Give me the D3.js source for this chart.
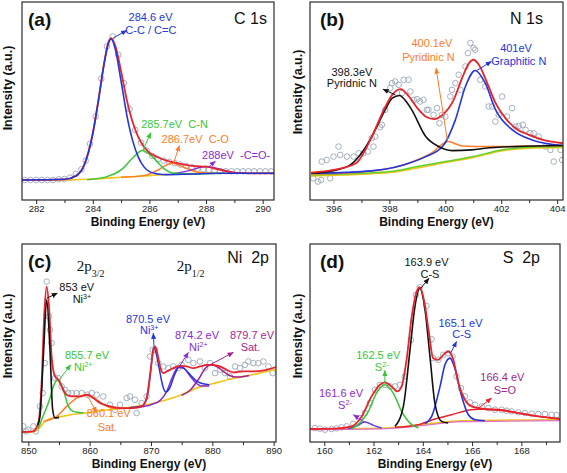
<!DOCTYPE html>
<html><head><meta charset="utf-8">
<script src="https://cdn.jsdelivr.net/npm/d3@7"></script>
<style>
body{margin:0;background:#fff}
svg{display:block;font-family:"Liberation Sans",Arial,sans-serif}
text{white-space:pre}
</style>
</head><body>
<svg id="chart" width="567" height="473"></svg>
<script>
// ---------- colours ----------
const RED="#e8232c", BLUE="#2236dc", GREEN="#35c735", ORANGE="#ff7c26", PURPLE="#8a2bd6",
      MAGENTA="#a61f8c", BLACK="#111111", YELLOW="#f0c419", LGREEN="#62d02a", PINK="#e070c8";

// ---------- panel (a) C 1s ----------
const aTicks=[282,284,286,288,290], aMinor=[283,285,287,289];
const aScatter=[[281.6,60],[281.8,60],[282.0,60],[282.2,60],[282.4,60],[282.6,60],[282.8,62],[283.0,63],[283.2,67],[283.4,78],[283.6,92],[283.75,118],[283.9,168],[284.1,250],[284.3,363],[284.5,460],[284.7,490],[284.9,435],[285.1,350],[285.3,272],[285.5,210],[285.7,172],[285.9,148],[286.1,132],[286.3,122],[286.5,118],[286.7,114],[286.9,110],[287.1,106],[287.3,102],[287.5,98],[287.7,94],[287.9,92],[288.1,90],[288.3,88],[288.5,86],[288.7,86],[288.9,86],[289.1,86],[289.3,86],[289.5,86],[289.7,86],[289.9,86],[290.1,86],[290.3,86]];
const aBase=[[281.5,60],[283.0,60],[284.0,63],[285.0,68],[286.0,73],[287.0,78],[288.0,80],[290.4,81]];
const aCC=[[281.5,60],[283.0,62],[283.4,72],[283.7,105],[284.0,198],[284.2,298],[284.4,408],[284.55,468],[284.65,482],[284.8,450],[285.0,355],[285.2,255],[285.4,180],[285.6,130],[285.8,100],[286.0,85],[286.3,78],[286.6,76],[287.5,78],[288.5,80],[290.4,80]];
const aCN=[[283.8,61],[284.5,70],[285.0,90],[285.4,125],[285.75,148],[286.1,130],[286.5,95],[286.9,80],[287.5,78],[288.6,80]];
const aCO=[[285.0,68],[285.8,73],[286.3,90],[286.8,110],[287.3,95],[287.8,82],[288.3,80]];
const aCOO=[[286.8,78],[287.4,88],[288.0,100],[288.5,92],[289.0,82],[289.4,80]];
const aFit=[[281.5,60],[283.0,62],[283.4,72],[283.7,105],[284.0,200],[284.2,300],[284.4,410],[284.55,472],[284.65,485],[284.8,460],[285.0,385],[285.2,300],[285.4,235],[285.6,190],[285.8,160],[286.0,142],[286.3,128],[286.6,118],[287.0,110],[287.5,102],[288.0,100],[288.5,90],[289.0,82],[289.5,80],[290.4,80]];

// ---------- panel (b) N 1s ----------
const bTicks=[396,398,400,402,404], bMinor=[397,399,401,403];
const bScatter=[[395.28,65],[395.44,55],[395.56,60],[395.88,65],[395.58,115],[395.76,120],[396.0,130],[396.18,160],[396.24,135],[396.48,130],[396.72,130],[396.9,140],[397.07,140],[397.23,145],[397.37,185],[397.43,160],[397.49,190],[397.67,218],[397.73,225],[397.85,270],[398.03,335],[398.09,350],[398.21,355],[398.33,345],[398.45,320],[398.51,360],[398.69,360],[398.75,325],[398.87,300],[398.99,302],[399.1,295],[399.22,300],[399.34,270],[399.4,270],[399.58,255],[399.7,275],[399.79,230],[399.88,255],[400.0,250],[400.18,310],[400.24,330],[400.36,350],[400.48,375],[400.54,330],[400.72,400],[400.81,440],[400.9,470],[401.01,455],[401.07,450],[401.25,360],[401.43,340],[401.55,280],[401.67,280],[401.79,235],[401.91,255],[402.03,310],[402.21,250],[402.39,275],[402.51,220],[402.63,222],[402.77,225],[402.87,210],[403.04,200],[403.16,200],[403.34,190],[403.58,160],[403.76,150],[403.88,115],[404.12,150],[404.18,120]];
const bBaseY=[[395.2,72],[397,77],[398,82],[399,96],[400,112],[401,127],[402,147],[403,155],[404.2,157]];
const bBaseG=[[395.2,75],[397,80],[398,85],[399,100],[400,115],[401,130],[402,150],[403,158],[404.2,160]];
const bPyr=[[395.2,80],[396,88],[396.6,105],[397.0,140],[397.37,190],[397.85,270],[398.1,305],[398.36,313],[398.6,295],[398.8,270],[399.3,190],[399.76,160],[400.24,148],[400.95,150],[401.43,155],[402.5,160],[404.2,163]];
const bPyri=[[395.2,78],[397,84],[398.5,105],[399.5,140],[400.1,175],[400.6,162],[401.5,160],[404.2,163]];
const bGra=[[395.2,80],[397,85],[398.5,105],[399.3,130],[399.9,160],[400.36,240],[400.72,340],[401.07,388],[401.43,350],[401.8,270],[402.4,210],[403.1,180],[404.2,163]];
const bFit=[[395.2,82],[396,90],[396.8,110],[397.4,195],[397.8,270],[398.1,315],[398.4,332],[398.7,310],[399.0,275],[399.3,250],[399.6,242],[399.9,255],[400.3,300],[400.6,365],[400.85,410],[401.0,420],[401.2,405],[401.5,350],[401.8,290],[402.2,240],[402.6,210],[403.0,195],[403.5,180],[404.2,170]];

// ---------- panel (c) Ni 2p ----------
const cTicks=[850,860,870,880,890], cMinor=[855,865,875,885];
const cScatter=[[849.18,47],[849.62,32],[850.0,37],[850.82,47],[851.25,32],[851.9,107],[852.34,147],[852.72,237],[852.99,482],[853.37,377],[853.53,337],[853.8,297],[854.35,192],[854.89,192],[855.43,167],[855.98,157],[856.52,147],[857.07,147],[857.88,147],[858.7,147],[859.62,142],[860.33,147],[861.14,142],[862.23,137],[863.32,112],[864.13,97],[864.95,112],[866.03,132],[866.58,137],[867.39,127],[867.66,87],[868.48,117],[869.29,137],[869.84,257],[870.27,277],[870.65,277],[871.2,237],[872.01,227],[872.83,222],[873.64,227],[874.46,222],[875.0,232],[876.09,247],[876.9,237],[877.99,242],[878.8,222],[879.62,237],[880.43,207],[881.25,217],[882.07,207],[882.88,197],[883.7,227],[884.51,222],[885.33,232],[885.87,242],[886.68,237],[887.5,237],[888.32,242],[889.13,227],[889.84,207]];
const cBase=[[849,30],[851,32],[851.8,42],[852.6,60],[853.5,70],[855,75],[857,82],[860,89],[863,97],[866,103],[868,108],[870,114],[872,124],[874,135],[876,150],[878,165],[880,175],[882,185],[884,193],[886,200],[888,208],[890.38,218]];
const cNi3a=[[851.5,50],[851.9,77],[852.45,257],[852.99,427],[853.53,277],[853.97,97],[854.35,72],[855,74]];
const cNi2a=[[851.6,40],[852.45,80],[853.5,130],[854.08,167],[854.89,187],[855.71,157],[856.52,107],[857.34,92],[858.15,89],[859,88]];
const cSat1=[[852.45,62],[854.62,77],[856.25,107],[857.88,132],[859.62,142],[861.14,127],[862.77,107],[864.4,100],[866,102]];
const cNi3b=[[866.5,103],[868.5,108],[869.3,130],[869.9,205],[870.3,270],[870.55,283],[870.9,262],[871.4,215],[871.9,170],[872.4,150],[873.0,160],[873.8,200],[874.7,228],[875.6,218],[876.5,200],[877.5,182],[878.5,175],[879.5,172]];
const cNi2b=[[868,105],[870,112],[871.5,125],[872.5,150],[873.5,195],[874.4,224],[875.3,222],[876.3,200],[877.3,178],[878.3,168],[879.5,168]];
const cSat2=[[875,140],[876.5,158],[877.8,190],[878.8,220],[879.8,232],[880.8,226],[881.8,212],[882.8,200],[884,195],[886,200]];
const cFit=[[849,30],[850.82,32],[851.63,57],[852.17,177],[852.61,387],[852.99,467],[853.37,407],[853.8,257],[854.35,197],[854.89,187],[855.43,167],[856.25,142],[857.07,137],[858.42,137],[859.62,142],[860.6,132],[861.68,117],[863.32,107],[864.95,102],[867.12,102],[868.48,107],[869.29,132],[869.95,217],[870.38,277],[870.65,287],[871.03,267],[871.47,227],[872.01,207],[872.55,212],[873.64,222],[874.73,229],[875.82,227],[876.9,222],[877.99,227],[879.08,232],[880.16,232],[881.25,227],[882.34,217],[883.42,209],[885.05,212],[886.68,212],[888.86,217],[890.38,225]];

// ---------- panel (d) S 2p ----------
const dTicks=[160,162,164,166,168], dMinor=[161,163,165,167,169];
const dScatter=[[159.62,42],[159.82,40],[160.03,37],[160.3,39],[160.5,41],[160.7,44],[160.91,47],[161.18,55],[161.45,72],[161.65,87],[161.85,117],[162.06,157],[162.26,172],[162.46,172],[162.67,167],[162.87,167],[163.07,172],[163.27,197],[163.52,307],[163.72,442],[163.88,465],[164.15,409],[164.36,309],[164.42,252],[164.63,247],[164.83,262],[165.03,267],[165.21,257],[165.37,197],[165.55,162],[165.71,137],[165.91,119],[166.12,112],[166.39,107],[166.66,102],[166.93,97],[167.2,97],[167.4,94],[167.6,92],[167.88,89],[168.15,87],[168.42,85],[168.69,84],[168.96,84],[169.23,82],[169.43,81]];
const dBase=[[159.42,39],[162.5,42],[164.5,57],[165.5,64],[169.57,67]];
const dBase2=[[159.42,37],[162.5,40],[164.5,54],[165.5,61],[169.57,64]];
const dS2a=[[160.97,40],[161.3,48],[161.65,60],[162.0,50],[162.33,42]];
const dS2b=[[161.11,39],[161.79,92],[162.12,147],[162.46,172],[162.8,147],[163.14,92],[163.55,52],[163.82,42]];
const dCSa=[[162.87,47],[163.21,107],[163.48,277],[163.68,407],[163.88,462],[164.09,397],[164.29,257],[164.49,117],[164.76,62],[165.03,57]];
const dCSb=[[164.09,55],[164.36,77],[164.7,167],[164.9,232],[165.1,252],[165.3,222],[165.58,137],[165.85,82],[166.12,67],[166.52,64]];
const dSO=[[162.87,44],[163.82,52],[164.49,69],[165.17,82],[165.98,97],[166.52,99],[167.2,97],[167.88,87],[168.69,77],[169.57,69]];
const dFit=[[159.42,39],[160.43,40],[161.11,47],[161.52,77],[161.92,137],[162.26,172],[162.46,179],[162.73,167],[162.96,152],[163.14,167],[163.34,247],[163.55,377],[163.75,452],[163.88,465],[164.06,422],[164.25,327],[164.42,252],[164.63,247],[164.83,262],[165.03,272],[165.24,247],[165.44,177],[165.71,127],[165.98,107],[166.52,99],[167.2,95],[167.88,87],[168.69,77],[169.57,70]];

// ---------- panel layout ----------
const panels=[
 {tag:"(a)", title:"C 1s", xDomain:[281.5,290.4], left:22, right:274, top:2, bottom:200, yMax:593,
  ticks:aTicks, minor:aMinor, scatter:aScatter, yTitleX:12, yTitleY:88,
  curves:[[aBase,YELLOW,1.6],[aCO,ORANGE,1.5],[aCOO,PURPLE,1.5],[aCN,GREEN,1.5],[aFit,RED,1.8],[aCC,BLUE,1.6]],
  labels:[[286.04,535,"284.6 eV",BLUE,"middle"],[286.05,497,"C-C / C=C",BLUE,"middle"],[285.71,217,"285.7eV  C-N",GREEN,"start"],[286.43,172,"286.7eV  C-O",ORANGE,"start"],[287.86,124,"288eV  -C=O-",PURPLE,"start"]],
  arrows:[[284.72,485,285.2,508,BLUE],[285.77,148,286.05,202,GREEN],[286.85,110,287.06,163,ORANGE],[288.07,98,288.33,116,PURPLE]]},
 {tag:"(b)", title:"N 1s", xDomain:[395.16,404.21], left:310, right:563, top:2, bottom:200, yMax:593,
  ticks:bTicks, minor:bMinor, scatter:bScatter, yTitleX:302, yTitleY:92,
  curves:[[bBaseY,YELLOW,1.5],[bBaseG,LGREEN,1.5],[bPyri,ORANGE,1.5],[bGra,BLUE,1.6],[bPyr,BLACK,1.6],[bFit,RED,1.8]],
  labels:[[396.66,372,"398.3eV",BLACK,"middle"],[396.66,337,"Pyridnic N",BLACK,"middle"],[399.52,457,"400.1eV",ORANGE,"middle"],[399.4,417,"Pyridinic N",ORANGE,"middle"],[402.53,442,"401eV",BLUE,"middle"],[402.63,405,"Graphitic N",BLUE,"middle"]],
  arrows:[[398.21,315,397.77,332,BLACK],[400.08,175,399.67,395,ORANGE],[401.13,388,401.65,415,BLUE]]},
 {tag:"(c)", title:"Ni  2p", xDomain:[848.97,890.38], left:22, right:276, top:244, bottom:442, yMax:595,
  ticks:cTicks, minor:cMinor, scatter:cScatter, yTitleX:12, yTitleY:336,
  curves:[[cBase,YELLOW,1.6],[cSat1,ORANGE,1.5],[cNi2a,GREEN,1.5],[cSat2,MAGENTA,1.5],[cNi2b,PURPLE,1.5],[cNi3b,BLUE,1.5],[cFit,RED,1.8],[cNi3a,BLACK,1.6]],
  labels:[[855.05,454,"853 eV",BLACK,"start"],[857.23,419,"Ni^{3+}",BLACK,"start"],[855.98,249,"855.7 eV",GREEN,"start"],[857.45,214,"Ni^{2+}",GREEN,"start"],[859.51,74,"860.1 eV",ORANGE,"start"],[861.3,34,"Sat.",ORANGE,"start"],[865.92,359,"870.5 eV",BLUE,"start"],[868.2,324,"Ni^{3+}",BLUE,"start"],[873.91,309,"874.2 eV",PURPLE,"start"],[876.2,274,"Ni^{2+}",PURPLE,"start"],[882.88,309,"879.7 eV",MAGENTA,"start"],[884.62,274,"Sat.",MAGENTA,"start"]],
  arrows:[[852.99,432,854.73,447,BLACK],[855.05,187,856.9,232,GREEN],[859.62,139,861.14,89,ORANGE],[870.49,287,870.38,327,BLUE],[874.62,227,876.09,269,PURPLE],[879.62,232,883.42,269,MAGENTA]],
  orbitals:[[857.88,515,"2p","3/2"],[874.18,515,"2p","1/2"]]},
 {tag:"(d)", title:"S  2p", xDomain:[159.42,169.57], left:310, right:560, top:244, bottom:442, yMax:595,
  ticks:dTicks, minor:dMinor, scatter:dScatter, yTitleX:302, yTitleY:336,
  curves:[[dBase,YELLOW,1.5],[dBase2,PINK,1.2],[dS2a,"#5b3fd8",1.5],[dSO,RED,1.5],[dS2b,GREEN,1.5],[dCSb,BLUE,1.6],[dCSa,BLACK,1.6],[dFit,RED,1.8]],
  labels:[[164.15,529,"163.9 eV",BLACK,"middle"],[164.29,492,"C-S",BLACK,"middle"],[165.53,347,"165.1 eV",BLUE,"middle"],[165.58,312,"C-S",BLUE,"middle"],[162.19,249,"162.5 eV",GREEN,"middle"],[162.33,214,"S^{2-}",GREEN,"middle"],[160.68,134,"161.6 eV",PURPLE,"middle"],[160.84,99,"S^{2-}",PURPLE,"middle"],[167.23,184,"166.4 eV",MAGENTA,"middle"],[167.33,144,"S=O",MAGENTA,"middle"]],
  arrows:[[163.92,462,164.25,492,BLACK],[165.13,267,165.37,302,BLUE],[162.46,175,162.46,215,GREEN],[161.65,59,161.18,82,PURPLE],[166.18,97,166.79,132,RED]]}
];

const svg=d3.select("#chart");
const defs=svg.append("defs");
function marker(color){
  const id="arr"+color.replace("#","");
  if(defs.select("#"+id).empty()){
    defs.append("marker").attr("id",id).attr("viewBox","0 0 8 8").attr("refX",7.5).attr("refY",4)
      .attr("markerWidth",6).attr("markerHeight",6).attr("markerUnits","userSpaceOnUse").attr("orient","auto")
      .append("path").attr("d","M0,0.6 L8,4 L0,7.4 Z").attr("fill",color);
  }
  return "url(#"+id+")";
}
function richText(sel,str){
  const re=/\^\{([^}]*)\}|_\{([^}]*)\}|([^^_]+)/g; let m;
  while((m=re.exec(str))){
    if(m[1]) sel.append("tspan").attr("baseline-shift","super").attr("font-size","0.65em").text(m[1]);
    else if(m[2]) sel.append("tspan").attr("baseline-shift","sub").attr("font-size","0.65em").text(m[2]);
    else sel.append("tspan").text(m[3]);
  }
}

panels.forEach((p,i)=>{
  const x=d3.scaleLinear().domain(p.xDomain).range([p.left,p.right]);
  const y=d3.scaleLinear().domain([0,p.yMax]).range([p.bottom,p.top]);
  const g=svg.append("g");
  const cid="clip"+i;
  defs.append("clipPath").attr("id",cid).append("rect")
    .attr("x",p.left).attr("y",p.top).attr("width",p.right-p.left).attr("height",p.bottom-p.top);
  const plot=g.append("g").attr("clip-path","url(#"+cid+")");
  plot.selectAll("circle").data(p.scatter).join("circle")
    .attr("cx",d=>x(d[0])).attr("cy",d=>y(d[1])).attr("r",2.8)
    .attr("fill","none").attr("stroke","#a3b0bf").attr("stroke-width",1);
  const line=d3.line().x(d=>x(d[0])).y(d=>y(d[1])).curve(d3.curveMonotoneX);
  p.curves.forEach(c=>{
    plot.append("path").attr("d",line(c[0])).attr("fill","none").attr("stroke",c[1]).attr("stroke-width",c[2]).attr("stroke-linejoin","round");
  });
  p.arrows.forEach(a=>{
    g.append("line").attr("x1",x(a[0])).attr("y1",y(a[1])).attr("x2",x(a[2])).attr("y2",y(a[3]))
      .attr("stroke",a[4]).attr("stroke-width",1).attr("marker-end",marker(a[4]));
  });
  p.labels.forEach(l=>{
    const t=g.append("text").attr("x",x(l[0])).attr("y",y(l[1])).attr("fill",l[3])
      .attr("font-size",11).attr("text-anchor",l[4]);
    richText(t,l[2]);
  });
  if(p.orbitals) p.orbitals.forEach(o=>{
    const t=g.append("text").attr("x",x(o[0])).attr("y",y(o[1])).attr("font-family","'Liberation Serif',serif").attr("font-size",15).attr("fill","#111");
    t.append("tspan").text(o[2]);
    t.append("tspan").attr("baseline-shift","sub").attr("font-size",10).text(o[3]);
  });
  g.append("rect").attr("x",p.left).attr("y",p.top).attr("width",p.right-p.left).attr("height",p.bottom-p.top)
    .attr("fill","none").attr("stroke","#2a2a2a").attr("stroke-width",1.2);
  const ax=g.append("g").attr("transform",`translate(0,${p.bottom})`)
    .call(d3.axisBottom(x).tickValues(p.ticks).tickSize(4).tickPadding(1).tickFormat(d3.format("d")));
  ax.select(".domain").remove();
  ax.selectAll("line").attr("stroke","#2a2a2a");
  ax.selectAll("text").attr("font-size",9.5).attr("font-family","'Liberation Sans',Arial,sans-serif").attr("fill","#222");
  const mx=g.append("g").attr("transform",`translate(0,${p.bottom})`)
    .call(d3.axisBottom(x).tickValues(p.minor).tickSize(3).tickFormat(""));
  mx.select(".domain").remove();
  mx.selectAll("line").attr("stroke","#2a2a2a");
  g.append("text").attr("x",(p.left+p.right)/2).attr("y",p.bottom+25.5).attr("text-anchor","middle")
    .attr("font-weight","bold").attr("font-size",12).attr("fill","#111").text("Binding Energy (eV)");
  g.append("text").attr("transform",`translate(${p.yTitleX},${p.yTitleY}) rotate(-90)`).attr("text-anchor","middle")
    .attr("font-weight","bold").attr("font-size",12.5).attr("fill","#111").text("Intensity (a.u.)");
  g.append("text").attr("x",p.left+(i%2?10:6)).attr("y",p.top+24).attr("font-weight","bold").attr("font-size",19).attr("fill","#111").text(p.tag);
  g.append("text").attr("x",p.right-(i%2?20:7)).attr("y",p.top+(i<2?22:19)).attr("text-anchor","end").attr("font-size",16).attr("fill","#111").text(p.title);
});
</script>
</body></html>
